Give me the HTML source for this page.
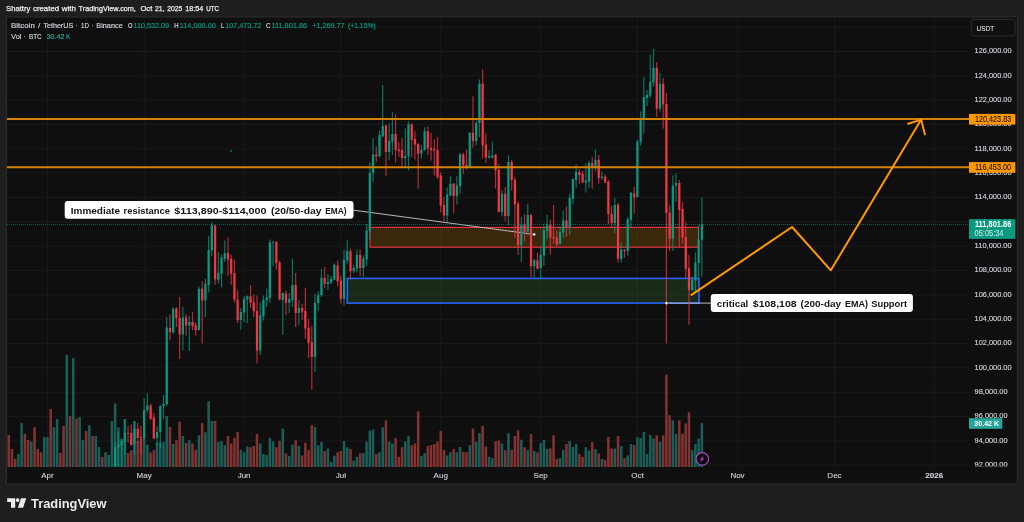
<!DOCTYPE html>
<html lang="en"><head><meta charset="utf-8"><title>BTCUSDT chart</title>
<style>html,body{margin:0;padding:0;background:#1e1e1e;width:1024px;height:522px;overflow:hidden}</style>
</head><body>
<svg width="1024" height="522" viewBox="0 0 1024 522" style="position:absolute;left:0;top:0;display:block">
<defs><clipPath id="pane"><rect x="7" y="17" width="962" height="450"/></clipPath><clipPath id="axis"><rect x="969" y="17" width="48.5" height="449.4"/></clipPath></defs>
<rect width="1024" height="522" fill="#1e1e1e"/>
<rect x="6.4" y="16.9" width="1011" height="467.2" fill="#0f0f0f" stroke="#2b2b2b" stroke-width="1.25"/>
<path d="M7 465.28H968.5 M7 440.94H968.5 M7 416.60H968.5 M7 392.26H968.5 M7 367.92H968.5 M7 343.58H968.5 M7 319.24H968.5 M7 294.90H968.5 M7 270.56H968.5 M7 246.22H968.5 M7 221.88H968.5 M7 197.54H968.5 M7 173.20H968.5 M7 148.86H968.5 M7 124.52H968.5 M7 100.18H968.5 M7 75.84H968.5 M7 51.50H968.5 M7 27.16H968.5 M47.45 17V467 M144.16 17V467 M244.10 17V467 M340.81 17V467 M440.74 17V467 M540.68 17V467 M637.39 17V467 M737.92 17V467 M834.49 17V467 M934.27 17V467" stroke="#1a1a1a" stroke-width="1" fill="none"/>
<g clip-path="url(#pane)">
<rect x="370" y="227.4" width="328.5" height="19.8" fill="rgba(255,152,0,0.18)" stroke="#f23645" stroke-width="1.1"/>
<rect x="347.3" y="278.4" width="351.7" height="24.7" fill="rgba(76,175,80,0.17)" stroke="#2962ff" stroke-width="1.6"/>
<path d="M353.5 210.2L534.1 234.4M666.4 303.1H711" stroke="#d6d6d6" stroke-width="0.85" fill="none"/>
<rect x="4.26" y="426.25" width="2.56" height="40.75" fill="#1b5d57"/>
<rect x="7.49" y="435.00" width="2.56" height="32.00" fill="#813231"/>
<rect x="10.71" y="449.00" width="2.56" height="18.00" fill="#813231"/>
<rect x="13.94" y="458.75" width="2.56" height="8.25" fill="#813231"/>
<rect x="17.16" y="454.10" width="2.56" height="12.90" fill="#1b5d57"/>
<rect x="20.38" y="423.10" width="2.56" height="43.90" fill="#1b5d57"/>
<rect x="23.61" y="433.75" width="2.56" height="33.25" fill="#813231"/>
<rect x="26.83" y="440.00" width="2.56" height="27.00" fill="#813231"/>
<rect x="30.05" y="441.60" width="2.56" height="25.40" fill="#1b5d57"/>
<rect x="33.28" y="427.25" width="2.56" height="39.75" fill="#813231"/>
<rect x="36.50" y="449.00" width="2.56" height="18.00" fill="#813231"/>
<rect x="39.73" y="452.25" width="2.56" height="14.75" fill="#813231"/>
<rect x="42.95" y="436.90" width="2.56" height="30.10" fill="#1b5d57"/>
<rect x="46.17" y="437.25" width="2.56" height="29.75" fill="#1b5d57"/>
<rect x="49.40" y="409.00" width="2.56" height="58.00" fill="#813231"/>
<rect x="52.62" y="427.25" width="2.56" height="39.75" fill="#1b5d57"/>
<rect x="55.84" y="419.10" width="2.56" height="47.90" fill="#1b5d57"/>
<rect x="59.07" y="452.90" width="2.56" height="14.10" fill="#813231"/>
<rect x="62.29" y="426.00" width="2.56" height="41.00" fill="#813231"/>
<rect x="65.52" y="354.75" width="2.56" height="112.25" fill="#1b5d57"/>
<rect x="68.74" y="416.00" width="2.56" height="51.00" fill="#813231"/>
<rect x="71.96" y="358.10" width="2.56" height="108.90" fill="#1b5d57"/>
<rect x="75.19" y="418.50" width="2.56" height="48.50" fill="#813231"/>
<rect x="78.41" y="417.10" width="2.56" height="49.90" fill="#1b5d57"/>
<rect x="81.63" y="440.00" width="2.56" height="27.00" fill="#1b5d57"/>
<rect x="84.86" y="431.00" width="2.56" height="36.00" fill="#813231"/>
<rect x="88.08" y="425.25" width="2.56" height="41.75" fill="#1b5d57"/>
<rect x="91.30" y="436.00" width="2.56" height="31.00" fill="#813231"/>
<rect x="94.53" y="436.00" width="2.56" height="31.00" fill="#1b5d57"/>
<rect x="97.75" y="446.90" width="2.56" height="20.10" fill="#1b5d57"/>
<rect x="100.98" y="456.90" width="2.56" height="10.10" fill="#813231"/>
<rect x="104.20" y="452.25" width="2.56" height="14.75" fill="#1b5d57"/>
<rect x="107.42" y="455.00" width="2.56" height="12.00" fill="#1b5d57"/>
<rect x="110.65" y="421.00" width="2.56" height="46.00" fill="#1b5d57"/>
<rect x="113.87" y="403.50" width="2.56" height="63.50" fill="#1b5d57"/>
<rect x="117.09" y="427.25" width="2.56" height="39.75" fill="#1b5d57"/>
<rect x="120.32" y="438.50" width="2.56" height="28.50" fill="#1b5d57"/>
<rect x="123.54" y="419.00" width="2.56" height="48.00" fill="#1b5d57"/>
<rect x="126.77" y="453.00" width="2.56" height="14.00" fill="#813231"/>
<rect x="129.99" y="450.25" width="2.56" height="16.75" fill="#813231"/>
<rect x="133.21" y="421.00" width="2.56" height="46.00" fill="#1b5d57"/>
<rect x="136.44" y="441.25" width="2.56" height="25.75" fill="#813231"/>
<rect x="139.66" y="439.00" width="2.56" height="28.00" fill="#813231"/>
<rect x="142.88" y="439.00" width="2.56" height="28.00" fill="#1b5d57"/>
<rect x="146.11" y="444.75" width="2.56" height="22.25" fill="#1b5d57"/>
<rect x="149.33" y="452.25" width="2.56" height="14.75" fill="#813231"/>
<rect x="152.55" y="450.25" width="2.56" height="16.75" fill="#813231"/>
<rect x="155.78" y="442.50" width="2.56" height="24.50" fill="#1b5d57"/>
<rect x="159.00" y="442.50" width="2.56" height="24.50" fill="#1b5d57"/>
<rect x="162.23" y="441.90" width="2.56" height="25.10" fill="#1b5d57"/>
<rect x="165.45" y="416.00" width="2.56" height="51.00" fill="#1b5d57"/>
<rect x="168.67" y="426.90" width="2.56" height="40.10" fill="#813231"/>
<rect x="171.90" y="444.00" width="2.56" height="23.00" fill="#1b5d57"/>
<rect x="175.12" y="440.25" width="2.56" height="26.75" fill="#813231"/>
<rect x="178.34" y="421.60" width="2.56" height="45.40" fill="#813231"/>
<rect x="181.57" y="436.00" width="2.56" height="31.00" fill="#1b5d57"/>
<rect x="184.79" y="442.90" width="2.56" height="24.10" fill="#813231"/>
<rect x="188.02" y="440.25" width="2.56" height="26.75" fill="#1b5d57"/>
<rect x="191.24" y="443.50" width="2.56" height="23.50" fill="#813231"/>
<rect x="194.46" y="449.75" width="2.56" height="17.25" fill="#813231"/>
<rect x="197.69" y="435.25" width="2.56" height="31.75" fill="#1b5d57"/>
<rect x="200.91" y="423.10" width="2.56" height="43.90" fill="#813231"/>
<rect x="204.13" y="432.25" width="2.56" height="34.75" fill="#1b5d57"/>
<rect x="207.36" y="401.25" width="2.56" height="65.75" fill="#1b5d57"/>
<rect x="210.58" y="421.00" width="2.56" height="46.00" fill="#1b5d57"/>
<rect x="213.81" y="421.00" width="2.56" height="46.00" fill="#813231"/>
<rect x="217.03" y="442.10" width="2.56" height="24.90" fill="#1b5d57"/>
<rect x="220.25" y="441.00" width="2.56" height="26.00" fill="#1b5d57"/>
<rect x="223.48" y="445.25" width="2.56" height="21.75" fill="#1b5d57"/>
<rect x="226.70" y="436.00" width="2.56" height="31.00" fill="#813231"/>
<rect x="229.92" y="443.50" width="2.56" height="23.50" fill="#813231"/>
<rect x="233.15" y="437.75" width="2.56" height="29.25" fill="#813231"/>
<rect x="236.37" y="431.90" width="2.56" height="35.10" fill="#813231"/>
<rect x="239.59" y="449.75" width="2.56" height="17.25" fill="#1b5d57"/>
<rect x="242.82" y="452.25" width="2.56" height="14.75" fill="#1b5d57"/>
<rect x="246.04" y="446.50" width="2.56" height="20.50" fill="#1b5d57"/>
<rect x="249.27" y="447.25" width="2.56" height="19.75" fill="#813231"/>
<rect x="252.49" y="446.00" width="2.56" height="21.00" fill="#813231"/>
<rect x="255.71" y="434.00" width="2.56" height="33.00" fill="#813231"/>
<rect x="258.94" y="443.50" width="2.56" height="23.50" fill="#1b5d57"/>
<rect x="262.16" y="454.00" width="2.56" height="13.00" fill="#1b5d57"/>
<rect x="265.38" y="455.00" width="2.56" height="12.00" fill="#1b5d57"/>
<rect x="268.61" y="437.75" width="2.56" height="29.25" fill="#1b5d57"/>
<rect x="271.83" y="441.50" width="2.56" height="25.50" fill="#1b5d57"/>
<rect x="275.06" y="447.25" width="2.56" height="19.75" fill="#813231"/>
<rect x="278.28" y="441.00" width="2.56" height="26.00" fill="#813231"/>
<rect x="281.50" y="428.50" width="2.56" height="38.50" fill="#1b5d57"/>
<rect x="284.73" y="453.50" width="2.56" height="13.50" fill="#813231"/>
<rect x="287.95" y="456.00" width="2.56" height="11.00" fill="#1b5d57"/>
<rect x="291.17" y="444.75" width="2.56" height="22.25" fill="#1b5d57"/>
<rect x="294.40" y="440.25" width="2.56" height="26.75" fill="#813231"/>
<rect x="297.62" y="446.00" width="2.56" height="21.00" fill="#1b5d57"/>
<rect x="300.85" y="455.40" width="2.56" height="11.60" fill="#813231"/>
<rect x="304.07" y="442.75" width="2.56" height="24.25" fill="#813231"/>
<rect x="307.29" y="450.25" width="2.56" height="16.75" fill="#813231"/>
<rect x="310.52" y="425.25" width="2.56" height="41.75" fill="#813231"/>
<rect x="313.74" y="426.90" width="2.56" height="40.10" fill="#1b5d57"/>
<rect x="316.96" y="445.25" width="2.56" height="21.75" fill="#1b5d57"/>
<rect x="320.19" y="441.90" width="2.56" height="25.10" fill="#1b5d57"/>
<rect x="323.41" y="451.00" width="2.56" height="16.00" fill="#813231"/>
<rect x="326.63" y="448.50" width="2.56" height="18.50" fill="#1b5d57"/>
<rect x="329.86" y="461.90" width="2.56" height="5.10" fill="#1b5d57"/>
<rect x="333.08" y="455.60" width="2.56" height="11.40" fill="#1b5d57"/>
<rect x="336.31" y="452.25" width="2.56" height="14.75" fill="#813231"/>
<rect x="339.53" y="451.00" width="2.56" height="16.00" fill="#813231"/>
<rect x="342.75" y="441.00" width="2.56" height="26.00" fill="#1b5d57"/>
<rect x="345.98" y="447.25" width="2.56" height="19.75" fill="#1b5d57"/>
<rect x="349.20" y="449.00" width="2.56" height="18.00" fill="#813231"/>
<rect x="352.42" y="460.60" width="2.56" height="6.40" fill="#1b5d57"/>
<rect x="355.65" y="456.90" width="2.56" height="10.10" fill="#1b5d57"/>
<rect x="358.87" y="453.10" width="2.56" height="13.90" fill="#813231"/>
<rect x="362.10" y="453.10" width="2.56" height="13.90" fill="#1b5d57"/>
<rect x="365.32" y="441.50" width="2.56" height="25.50" fill="#1b5d57"/>
<rect x="368.54" y="430.60" width="2.56" height="36.40" fill="#1b5d57"/>
<rect x="371.77" y="429.40" width="2.56" height="37.60" fill="#1b5d57"/>
<rect x="374.99" y="454.00" width="2.56" height="13.00" fill="#813231"/>
<rect x="378.21" y="452.25" width="2.56" height="14.75" fill="#1b5d57"/>
<rect x="381.44" y="427.25" width="2.56" height="39.75" fill="#1b5d57"/>
<rect x="384.66" y="420.25" width="2.56" height="46.75" fill="#813231"/>
<rect x="387.89" y="441.50" width="2.56" height="25.50" fill="#1b5d57"/>
<rect x="391.11" y="443.50" width="2.56" height="23.50" fill="#1b5d57"/>
<rect x="394.33" y="438.10" width="2.56" height="28.90" fill="#813231"/>
<rect x="397.56" y="456.90" width="2.56" height="10.10" fill="#813231"/>
<rect x="400.78" y="447.25" width="2.56" height="19.75" fill="#813231"/>
<rect x="404.00" y="441.50" width="2.56" height="25.50" fill="#1b5d57"/>
<rect x="407.23" y="436.00" width="2.56" height="31.00" fill="#1b5d57"/>
<rect x="410.45" y="445.25" width="2.56" height="21.75" fill="#813231"/>
<rect x="413.67" y="443.50" width="2.56" height="23.50" fill="#813231"/>
<rect x="416.90" y="411.50" width="2.56" height="55.50" fill="#813231"/>
<rect x="420.12" y="456.00" width="2.56" height="11.00" fill="#1b5d57"/>
<rect x="423.35" y="453.10" width="2.56" height="13.90" fill="#1b5d57"/>
<rect x="426.57" y="446.00" width="2.56" height="21.00" fill="#813231"/>
<rect x="429.79" y="445.00" width="2.56" height="22.00" fill="#813231"/>
<rect x="433.02" y="444.00" width="2.56" height="23.00" fill="#813231"/>
<rect x="436.24" y="441.50" width="2.56" height="25.50" fill="#813231"/>
<rect x="439.46" y="431.00" width="2.56" height="36.00" fill="#813231"/>
<rect x="442.69" y="450.00" width="2.56" height="17.00" fill="#813231"/>
<rect x="445.91" y="455.40" width="2.56" height="11.60" fill="#1b5d57"/>
<rect x="449.14" y="452.25" width="2.56" height="14.75" fill="#1b5d57"/>
<rect x="452.36" y="449.00" width="2.56" height="18.00" fill="#813231"/>
<rect x="455.58" y="452.25" width="2.56" height="14.75" fill="#1b5d57"/>
<rect x="458.81" y="446.90" width="2.56" height="20.10" fill="#1b5d57"/>
<rect x="462.03" y="451.90" width="2.56" height="15.10" fill="#813231"/>
<rect x="465.25" y="452.25" width="2.56" height="14.75" fill="#813231"/>
<rect x="468.48" y="445.25" width="2.56" height="21.75" fill="#1b5d57"/>
<rect x="471.70" y="428.50" width="2.56" height="38.50" fill="#813231"/>
<rect x="474.93" y="441.90" width="2.56" height="25.10" fill="#1b5d57"/>
<rect x="478.15" y="433.10" width="2.56" height="33.90" fill="#1b5d57"/>
<rect x="481.37" y="426.00" width="2.56" height="41.00" fill="#813231"/>
<rect x="484.60" y="446.50" width="2.56" height="20.50" fill="#813231"/>
<rect x="487.82" y="456.90" width="2.56" height="10.10" fill="#1b5d57"/>
<rect x="491.04" y="458.10" width="2.56" height="8.90" fill="#1b5d57"/>
<rect x="494.27" y="441.25" width="2.56" height="25.75" fill="#813231"/>
<rect x="497.49" y="440.40" width="2.56" height="26.60" fill="#813231"/>
<rect x="500.71" y="443.50" width="2.56" height="23.50" fill="#1b5d57"/>
<rect x="503.94" y="450.25" width="2.56" height="16.75" fill="#813231"/>
<rect x="507.16" y="433.10" width="2.56" height="33.90" fill="#1b5d57"/>
<rect x="510.39" y="449.75" width="2.56" height="17.25" fill="#813231"/>
<rect x="513.61" y="436.00" width="2.56" height="31.00" fill="#813231"/>
<rect x="516.83" y="430.40" width="2.56" height="36.60" fill="#813231"/>
<rect x="520.06" y="439.75" width="2.56" height="27.25" fill="#1b5d57"/>
<rect x="523.28" y="447.25" width="2.56" height="19.75" fill="#813231"/>
<rect x="526.50" y="450.25" width="2.56" height="16.75" fill="#1b5d57"/>
<rect x="529.73" y="434.00" width="2.56" height="33.00" fill="#813231"/>
<rect x="532.95" y="451.00" width="2.56" height="16.00" fill="#1b5d57"/>
<rect x="536.18" y="452.25" width="2.56" height="14.75" fill="#813231"/>
<rect x="539.40" y="443.10" width="2.56" height="23.90" fill="#1b5d57"/>
<rect x="542.62" y="440.00" width="2.56" height="27.00" fill="#1b5d57"/>
<rect x="545.85" y="449.00" width="2.56" height="18.00" fill="#1b5d57"/>
<rect x="549.07" y="448.50" width="2.56" height="18.50" fill="#813231"/>
<rect x="552.29" y="435.25" width="2.56" height="31.75" fill="#813231"/>
<rect x="555.52" y="459.00" width="2.56" height="8.00" fill="#813231"/>
<rect x="558.74" y="458.10" width="2.56" height="8.90" fill="#1b5d57"/>
<rect x="561.96" y="450.00" width="2.56" height="17.00" fill="#1b5d57"/>
<rect x="565.19" y="444.00" width="2.56" height="23.00" fill="#813231"/>
<rect x="568.41" y="441.00" width="2.56" height="26.00" fill="#1b5d57"/>
<rect x="571.64" y="446.90" width="2.56" height="20.10" fill="#1b5d57"/>
<rect x="574.86" y="444.00" width="2.56" height="23.00" fill="#1b5d57"/>
<rect x="578.08" y="454.10" width="2.56" height="12.90" fill="#813231"/>
<rect x="581.31" y="456.90" width="2.56" height="10.10" fill="#813231"/>
<rect x="584.53" y="447.25" width="2.56" height="19.75" fill="#1b5d57"/>
<rect x="587.75" y="450.60" width="2.56" height="16.40" fill="#1b5d57"/>
<rect x="590.98" y="442.10" width="2.56" height="24.90" fill="#813231"/>
<rect x="594.20" y="449.00" width="2.56" height="18.00" fill="#1b5d57"/>
<rect x="597.43" y="453.50" width="2.56" height="13.50" fill="#813231"/>
<rect x="600.65" y="459.00" width="2.56" height="8.00" fill="#1b5d57"/>
<rect x="603.87" y="460.00" width="2.56" height="7.00" fill="#813231"/>
<rect x="607.10" y="436.90" width="2.56" height="30.10" fill="#813231"/>
<rect x="610.32" y="448.50" width="2.56" height="18.50" fill="#813231"/>
<rect x="613.54" y="448.50" width="2.56" height="18.50" fill="#1b5d57"/>
<rect x="616.77" y="436.00" width="2.56" height="31.00" fill="#813231"/>
<rect x="619.99" y="446.00" width="2.56" height="21.00" fill="#1b5d57"/>
<rect x="623.22" y="458.10" width="2.56" height="8.90" fill="#813231"/>
<rect x="626.44" y="455.40" width="2.56" height="11.60" fill="#1b5d57"/>
<rect x="629.66" y="444.00" width="2.56" height="23.00" fill="#1b5d57"/>
<rect x="632.89" y="445.00" width="2.56" height="22.00" fill="#813231"/>
<rect x="636.11" y="437.25" width="2.56" height="29.75" fill="#1b5d57"/>
<rect x="639.33" y="438.10" width="2.56" height="28.90" fill="#1b5d57"/>
<rect x="642.56" y="431.90" width="2.56" height="35.10" fill="#1b5d57"/>
<rect x="645.78" y="454.00" width="2.56" height="13.00" fill="#1b5d57"/>
<rect x="649.00" y="435.00" width="2.56" height="32.00" fill="#1b5d57"/>
<rect x="652.23" y="438.50" width="2.56" height="28.50" fill="#1b5d57"/>
<rect x="655.45" y="435.40" width="2.56" height="31.60" fill="#813231"/>
<rect x="658.68" y="441.60" width="2.56" height="25.40" fill="#1b5d57"/>
<rect x="661.90" y="435.25" width="2.56" height="31.75" fill="#813231"/>
<rect x="665.12" y="374.70" width="2.56" height="92.30" fill="#813231"/>
<rect x="668.35" y="415.25" width="2.56" height="51.75" fill="#813231"/>
<rect x="671.57" y="420.25" width="2.56" height="46.75" fill="#1b5d57"/>
<rect x="674.79" y="434.00" width="2.56" height="33.00" fill="#1b5d57"/>
<rect x="678.02" y="420.25" width="2.56" height="46.75" fill="#813231"/>
<rect x="681.24" y="433.75" width="2.56" height="33.25" fill="#813231"/>
<rect x="684.47" y="423.50" width="2.56" height="43.50" fill="#813231"/>
<rect x="687.69" y="412.25" width="2.56" height="54.75" fill="#813231"/>
<rect x="690.91" y="450.25" width="2.56" height="16.75" fill="#1b5d57"/>
<rect x="694.14" y="444.00" width="2.56" height="23.00" fill="#1b5d57"/>
<rect x="697.36" y="438.50" width="2.56" height="28.50" fill="#1b5d57"/>
<rect x="700.58" y="423.10" width="2.56" height="43.90" fill="#1b5d57"/>
<path d="M115.15 441.90V480.00 M118.37 431.90V466.00 M121.60 439.40V468.00 M124.82 419.40V455.00 M134.49 421.25V455.00 M144.16 398.10V439.40 M147.39 393.10V412.50 M157.06 426.00V446.00 M160.28 405.00V448.00 M163.51 395.00V418.75 M166.73 316.90V406.00 M173.18 306.90V333.75 M182.85 306.90V350.25 M189.30 316.25V351.00 M198.97 286.25V330.60 M205.41 278.75V316.90 M208.64 236.25V292.50 M211.86 221.90V256.25 M218.31 251.90V283.75 M221.53 254.40V287.50 M224.76 240.60V261.90 M240.87 308.10V329.75 M244.10 296.25V321.90 M247.32 295.60V323.10 M260.22 302.50V355.00 M263.44 295.60V320.60 M266.66 288.75V306.90 M269.89 239.40V303.10 M273.11 241.25V266.25 M282.78 292.50V335.00 M289.23 293.10V313.10 M292.45 258.75V306.90 M298.90 300.00V325.00 M315.02 293.75V371.90 M318.24 291.25V311.25 M321.47 269.00V296.90 M327.91 274.00V290.00 M331.14 276.00V284.00 M334.36 263.50V280.20 M344.03 249.40V305.60 M347.26 239.80V263.75 M353.70 265.00V273.10 M356.93 249.40V272.50 M363.38 255.60V276.90 M366.60 224.00V266.25 M369.82 162.50V240.00 M373.05 138.10V181.90 M379.49 130.60V157.50 M382.72 85.00V137.50 M389.17 123.50V160.00 M392.39 112.25V155.00 M405.28 128.50V166.25 M408.51 121.25V170.60 M421.40 145.00V158.75 M424.63 127.25V150.60 M447.19 187.50V221.90 M450.42 176.25V196.20 M456.86 176.25V204.40 M460.09 153.10V193.75 M469.76 132.25V167.50 M476.20 120.60V145.60 M479.43 79.40V136.90 M489.10 150.00V158.75 M492.32 141.50V158.50 M501.99 190.00V216.40 M508.44 155.25V225.30 M521.34 216.90V261.90 M527.78 203.75V235.60 M534.23 258.75V277.50 M540.68 247.50V278.75 M543.90 224.50V265.60 M547.13 215.00V239.40 M560.02 226.25V244.75 M563.24 210.60V238.10 M569.69 193.75V235.00 M572.92 178.50V204.00 M576.14 164.50V188.10 M585.81 163.30V192.40 M589.03 160.80V187.80 M595.48 149.75V171.60 M601.93 171.50V180.00 M614.82 198.10V233.10 M621.27 242.50V262.50 M627.72 217.25V255.60 M630.94 191.90V226.90 M637.39 140.00V197.60 M640.61 111.25V145.60 M643.84 76.90V133.50 M647.06 90.00V106.00 M650.28 54.40V98.10 M653.51 48.75V86.50 M659.96 73.10V111.50 M672.85 175.25V251.00 M676.07 173.30V201.90 M692.19 276.40V290.80 M695.42 252.50V293.10 M698.64 225.00V277.60 M701.86 197.30V276.60" stroke="#089981" stroke-width="1.2" stroke-opacity="0.72" fill="none"/>
<path d="M114.02 447.00h2.26V480.00h-2.26Z M117.24 444.40h2.26V447.50h-2.26Z M120.47 441.20h2.26V445.00h-2.26Z M123.69 433.00h2.26V442.00h-2.26Z M133.36 428.75h2.26V443.75h-2.26Z M143.03 410.00h2.26V438.75h-2.26Z M146.26 405.60h2.26V410.00h-2.26Z M155.93 431.90h2.26V438.00h-2.26Z M159.15 406.20h2.26V432.00h-2.26Z M162.38 404.00h2.26V406.20h-2.26Z M165.60 327.50h2.26V404.00h-2.26Z M172.05 308.75h2.26V332.50h-2.26Z M181.72 317.50h2.26V334.40h-2.26Z M188.17 321.90h2.26V325.60h-2.26Z M197.84 288.75h2.26V330.00h-2.26Z M204.28 283.75h2.26V300.60h-2.26Z M207.51 250.00h2.26V285.00h-2.26Z M210.73 225.00h2.26V250.60h-2.26Z M217.18 273.10h2.26V279.40h-2.26Z M220.40 257.50h2.26V273.75h-2.26Z M223.63 253.10h2.26V258.75h-2.26Z M239.74 311.90h2.26V320.00h-2.26Z M242.97 298.75h2.26V312.50h-2.26Z M246.19 296.20h2.26V299.40h-2.26Z M259.09 315.60h2.26V350.60h-2.26Z M262.31 300.00h2.26V316.25h-2.26Z M265.53 297.50h2.26V300.60h-2.26Z M268.76 242.50h2.26V297.90h-2.26Z M271.98 242.20h2.26V242.90h-2.26Z M281.65 293.10h2.26V300.00h-2.26Z M288.10 298.90h2.26V302.75h-2.26Z M291.32 285.00h2.26V300.20h-2.26Z M297.77 308.10h2.26V313.10h-2.26Z M313.89 302.75h2.26V356.90h-2.26Z M317.11 295.00h2.26V303.00h-2.26Z M320.34 278.10h2.26V295.00h-2.26Z M326.78 281.90h2.26V284.00h-2.26Z M330.01 279.00h2.26V282.50h-2.26Z M333.23 264.75h2.26V279.75h-2.26Z M342.90 259.75h2.26V298.75h-2.26Z M346.13 251.00h2.26V260.60h-2.26Z M352.57 268.10h2.26V271.25h-2.26Z M355.80 255.00h2.26V268.75h-2.26Z M362.25 258.50h2.26V268.10h-2.26Z M365.47 230.60h2.26V259.40h-2.26Z M368.69 173.10h2.26V231.25h-2.26Z M371.92 154.40h2.26V173.10h-2.26Z M378.36 135.00h2.26V156.25h-2.26Z M381.59 126.00h2.26V136.25h-2.26Z M388.04 141.00h2.26V151.90h-2.26Z M391.26 134.00h2.26V141.50h-2.26Z M404.15 156.00h2.26V158.10h-2.26Z M407.38 124.40h2.26V156.25h-2.26Z M420.27 149.75h2.26V153.75h-2.26Z M423.50 131.25h2.26V150.00h-2.26Z M446.06 194.60h2.26V215.60h-2.26Z M449.29 183.75h2.26V195.60h-2.26Z M455.73 185.60h2.26V196.00h-2.26Z M458.96 154.50h2.26V186.00h-2.26Z M468.63 132.75h2.26V166.90h-2.26Z M475.07 122.90h2.26V141.10h-2.26Z M478.30 83.75h2.26V123.10h-2.26Z M487.97 156.00h2.26V157.50h-2.26Z M491.19 155.60h2.26V157.50h-2.26Z M500.86 193.75h2.26V211.90h-2.26Z M507.31 161.90h2.26V216.10h-2.26Z M520.21 224.40h2.26V245.00h-2.26Z M526.65 215.00h2.26V232.10h-2.26Z M533.10 260.00h2.26V266.25h-2.26Z M539.55 255.00h2.26V268.10h-2.26Z M542.77 230.60h2.26V255.60h-2.26Z M546.00 224.75h2.26V231.00h-2.26Z M558.89 231.90h2.26V244.00h-2.26Z M562.11 220.60h2.26V232.40h-2.26Z M568.56 197.75h2.26V227.40h-2.26Z M571.79 179.00h2.26V198.75h-2.26Z M575.01 171.90h2.26V180.00h-2.26Z M584.68 180.60h2.26V182.40h-2.26Z M587.90 163.10h2.26V181.40h-2.26Z M594.35 159.75h2.26V167.80h-2.26Z M600.80 176.40h2.26V178.10h-2.26Z M613.69 205.00h2.26V223.10h-2.26Z M620.14 249.75h2.26V259.00h-2.26Z M626.59 219.30h2.26V251.25h-2.26Z M629.81 192.75h2.26V220.00h-2.26Z M636.26 141.40h2.26V196.90h-2.26Z M639.48 118.10h2.26V141.90h-2.26Z M642.71 96.90h2.26V119.00h-2.26Z M645.93 95.00h2.26V98.10h-2.26Z M649.15 81.90h2.26V95.60h-2.26Z M652.38 67.75h2.26V82.50h-2.26Z M658.83 83.75h2.26V108.75h-2.26Z M671.72 185.40h2.26V238.80h-2.26Z M674.94 183.10h2.26V185.60h-2.26Z M691.06 280.00h2.26V290.00h-2.26Z M694.29 262.40h2.26V280.40h-2.26Z M697.51 239.60h2.26V263.00h-2.26Z M700.73 224.20h2.26V239.70h-2.26Z" fill="#089981"/>
<path d="M128.05 426.00V442.50 M131.27 424.40V445.60 M137.72 423.10V442.50 M140.94 426.00V454.40 M150.61 403.75V420.00 M153.83 413.10V439.00 M169.95 314.40V339.80 M176.40 306.90V326.90 M179.62 296.90V359.00 M186.07 314.40V335.60 M192.52 311.90V330.00 M195.74 322.50V335.60 M202.19 281.25V343.50 M215.09 224.80V285.00 M227.98 237.50V276.00 M231.20 254.40V284.75 M234.43 259.40V302.50 M237.65 290.60V323.10 M250.55 285.00V308.10 M253.77 294.40V316.90 M256.99 295.60V363.60 M276.34 241.00V269.40 M279.56 260.60V300.20 M286.01 290.60V315.00 M295.68 273.10V326.90 M302.13 303.75V320.00 M305.35 288.10V338.75 M308.57 318.75V358.10 M311.80 326.25V389.75 M324.69 266.90V288.10 M337.59 260.60V286.00 M340.81 276.25V303.75 M350.48 248.75V279.40 M360.15 249.40V276.25 M376.27 146.25V161.90 M385.94 124.75V176.25 M395.61 114.00V162.50 M398.84 142.25V156.90 M402.06 138.10V166.90 M411.73 123.10V156.90 M414.95 131.25V159.40 M418.18 143.10V188.75 M427.85 126.50V155.00 M431.07 133.10V160.60 M434.30 139.40V175.60 M437.52 137.25V179.00 M440.74 172.25V212.50 M443.97 196.90V221.25 M453.64 183.00V213.30 M463.31 152.75V173.75 M466.53 149.40V169.40 M472.98 96.25V147.80 M482.65 69.40V158.50 M485.88 133.50V163.10 M495.55 154.00V188.75 M498.77 164.00V212.30 M505.22 187.25V221.25 M511.67 160.00V190.60 M514.89 176.90V237.50 M518.11 201.25V255.00 M524.56 214.40V241.40 M531.01 213.75V276.90 M537.46 252.50V269.40 M550.35 219.40V254.40 M553.57 205.00V243.75 M556.80 230.00V246.00 M566.47 206.25V236.90 M579.36 169.20V183.75 M582.59 170.80V183.30 M592.26 157.00V188.75 M598.71 155.00V183.75 M605.15 174.50V183.00 M608.38 180.10V224.20 M611.60 206.25V226.90 M618.05 203.10V262.50 M624.50 249.20V257.50 M634.17 186.90V213.75 M656.73 62.25V116.90 M663.18 78.10V128.50 M666.40 93.10V343.50 M669.63 205.60V251.20 M679.30 180.00V246.90 M682.52 201.90V243.80 M685.75 222.30V277.30 M688.97 255.10V324.75" stroke="#f23645" stroke-width="1.2" stroke-opacity="0.72" fill="none"/>
<path d="M126.92 433.20h2.26V433.90h-2.26Z M130.14 433.00h2.26V445.00h-2.26Z M136.59 428.75h2.26V438.00h-2.26Z M139.81 437.20h2.26V438.60h-2.26Z M149.48 405.60h2.26V418.75h-2.26Z M152.70 417.50h2.26V438.50h-2.26Z M168.82 328.10h2.26V331.90h-2.26Z M175.27 308.50h2.26V318.10h-2.26Z M178.49 318.10h2.26V334.40h-2.26Z M184.94 317.50h2.26V325.60h-2.26Z M191.39 321.90h2.26V326.25h-2.26Z M194.61 325.60h2.26V330.00h-2.26Z M201.06 288.75h2.26V300.60h-2.26Z M213.96 225.60h2.26V279.40h-2.26Z M226.85 253.10h2.26V259.40h-2.26Z M230.07 258.75h2.26V273.75h-2.26Z M233.30 273.10h2.26V299.70h-2.26Z M236.52 299.40h2.26V320.00h-2.26Z M249.42 296.20h2.26V302.75h-2.26Z M252.64 302.25h2.26V311.25h-2.26Z M255.86 311.00h2.26V350.60h-2.26Z M275.21 241.90h2.26V263.10h-2.26Z M278.43 262.50h2.26V299.60h-2.26Z M284.88 293.40h2.26V302.75h-2.26Z M294.55 285.00h2.26V313.10h-2.26Z M301.00 308.10h2.26V311.50h-2.26Z M304.22 311.00h2.26V328.50h-2.26Z M307.44 327.75h2.26V343.10h-2.26Z M310.67 342.25h2.26V356.90h-2.26Z M323.56 278.10h2.26V283.75h-2.26Z M336.46 265.60h2.26V281.25h-2.26Z M339.68 280.60h2.26V298.75h-2.26Z M349.35 251.00h2.26V271.25h-2.26Z M359.02 255.00h2.26V268.10h-2.26Z M375.14 154.40h2.26V156.25h-2.26Z M384.81 125.60h2.26V151.90h-2.26Z M394.48 134.00h2.26V150.00h-2.26Z M397.71 149.40h2.26V151.00h-2.26Z M400.93 150.00h2.26V158.10h-2.26Z M410.60 124.40h2.26V139.75h-2.26Z M413.82 139.00h2.26V144.40h-2.26Z M417.05 144.00h2.26V153.75h-2.26Z M426.72 131.25h2.26V148.50h-2.26Z M429.94 147.75h2.26V150.00h-2.26Z M433.17 149.00h2.26V150.60h-2.26Z M436.39 150.00h2.26V176.90h-2.26Z M439.61 175.60h2.26V205.60h-2.26Z M442.84 205.00h2.26V215.60h-2.26Z M452.51 183.75h2.26V196.00h-2.26Z M462.18 154.40h2.26V165.60h-2.26Z M465.40 165.00h2.26V167.50h-2.26Z M471.85 132.75h2.26V141.10h-2.26Z M481.52 83.75h2.26V145.60h-2.26Z M484.75 144.75h2.26V157.50h-2.26Z M494.42 154.75h2.26V170.60h-2.26Z M497.64 170.00h2.26V211.90h-2.26Z M504.09 193.75h2.26V216.10h-2.26Z M510.54 161.90h2.26V180.00h-2.26Z M513.76 179.75h2.26V204.40h-2.26Z M516.98 203.60h2.26V245.00h-2.26Z M523.43 224.40h2.26V231.90h-2.26Z M529.88 214.90h2.26V266.25h-2.26Z M536.33 260.60h2.26V268.75h-2.26Z M549.22 224.75h2.26V237.50h-2.26Z M552.44 236.90h2.26V238.50h-2.26Z M555.67 237.50h2.26V244.40h-2.26Z M565.34 220.60h2.26V227.60h-2.26Z M578.23 171.90h2.26V175.00h-2.26Z M581.46 173.75h2.26V182.50h-2.26Z M591.13 163.10h2.26V167.20h-2.26Z M597.58 159.75h2.26V178.10h-2.26Z M604.02 176.40h2.26V182.50h-2.26Z M607.25 181.70h2.26V213.90h-2.26Z M610.47 213.75h2.26V223.10h-2.26Z M616.92 204.75h2.26V258.70h-2.26Z M623.37 249.75h2.26V251.10h-2.26Z M633.04 193.50h2.26V197.30h-2.26Z M655.60 67.75h2.26V108.75h-2.26Z M662.05 83.75h2.26V104.40h-2.26Z M665.27 103.90h2.26V212.90h-2.26Z M668.50 212.40h2.26V238.80h-2.26Z M678.17 183.10h2.26V209.90h-2.26Z M681.39 209.00h2.26V237.50h-2.26Z M684.62 237.00h2.26V268.70h-2.26Z M687.84 268.00h2.26V290.00h-2.26Z" fill="#f23645"/>
</g>
<g clip-path="url(#pane)">
<path d="M7 119H969M7 167.2H969" stroke="#d4830a" stroke-width="1.95" fill="none"/>
<path d="M7 224.5H969" stroke="#089981" stroke-width="0.8" stroke-dasharray="0.8 1.2" fill="none" opacity="0.9"/>
<path d="M691.5 294.9L792.1 227L830.8 270.3L921.2 119.6" stroke="#ff9800" stroke-width="2" fill="none" stroke-linejoin="round" stroke-linecap="round"/>
<path d="M908.1 123.8L921.2 119.6L924.9 134.4" stroke="#ff9800" stroke-width="2" fill="none" stroke-linejoin="round" stroke-linecap="round"/>
<circle cx="534.1" cy="234.4" r="1.7" fill="#fff" stroke="#0f0f0f" stroke-width="0.6"/>
<rect x="64.7" y="200.9" width="288.8" height="17.9" rx="3" fill="#fff"/>
<text x="70.8" y="213.7" font-family="'Liberation Sans',sans-serif" font-weight="700" font-size="9.3" fill="#131313" textLength="49.30" lengthAdjust="spacingAndGlyphs">Immediate</text>
<text x="123.6" y="213.7" font-family="'Liberation Sans',sans-serif" font-weight="700" font-size="9.3" fill="#131313" textLength="46.30" lengthAdjust="spacingAndGlyphs">resistance</text>
<text x="174.3" y="213.7" font-family="'Liberation Sans',sans-serif" font-weight="700" font-size="9.3" fill="#131313" textLength="92.30" lengthAdjust="spacingAndGlyphs">$113,890-$114,000</text>
<text x="271" y="213.7" font-family="'Liberation Sans',sans-serif" font-weight="700" font-size="9.3" fill="#131313" textLength="50.60" lengthAdjust="spacingAndGlyphs">(20/50-day</text>
<text x="325.2" y="213.7" font-family="'Liberation Sans',sans-serif" font-weight="700" font-size="9.3" fill="#131313" textLength="21.40" lengthAdjust="spacingAndGlyphs">EMA)</text>
<circle cx="666.4" cy="303.1" r="1.7" fill="#fff" stroke="#0f0f0f" stroke-width="0.6"/>
<rect x="710.8" y="294" width="202.1" height="18" rx="3" fill="#fff"/>
<text x="716.8" y="306.9" font-family="'Liberation Sans',sans-serif" font-weight="700" font-size="9.3" fill="#131313" textLength="31.50" lengthAdjust="spacingAndGlyphs">critical</text>
<text x="752.8" y="306.9" font-family="'Liberation Sans',sans-serif" font-weight="700" font-size="9.3" fill="#131313" textLength="43.80" lengthAdjust="spacingAndGlyphs">$108,108</text>
<text x="800.6" y="306.9" font-family="'Liberation Sans',sans-serif" font-weight="700" font-size="9.3" fill="#131313" textLength="40.50" lengthAdjust="spacingAndGlyphs">(200-day</text>
<text x="844.9" y="306.9" font-family="'Liberation Sans',sans-serif" font-weight="700" font-size="9.3" fill="#131313" textLength="23.10" lengthAdjust="spacingAndGlyphs">EMA)</text>
<text x="871.2" y="306.9" font-family="'Liberation Sans',sans-serif" font-weight="700" font-size="9.3" fill="#131313" textLength="35.90" lengthAdjust="spacingAndGlyphs">Support</text>
</g>
<circle cx="231.1" cy="150.9" r="0.8" fill="#1793a8"/>
<circle cx="702.3" cy="458.9" r="6.25" fill="#0c0c0c" stroke="#ab45bf" stroke-width="1.2"/>
<path d="M703.7 455.5L699.7 459.4H701.9L700.3 462.6L704.4 458.6H702.3Z" fill="#b843cc"/>
<g clip-path="url(#axis)">
<text x="974.6" y="467.03" font-family="'Liberation Sans',sans-serif" font-size="8.1" fill="#d1d4dc" stroke="#d1d4dc" stroke-width="0.15" textLength="33" lengthAdjust="spacingAndGlyphs">92,000.00</text>
<text x="974.6" y="442.69" font-family="'Liberation Sans',sans-serif" font-size="8.1" fill="#d1d4dc" stroke="#d1d4dc" stroke-width="0.15" textLength="33" lengthAdjust="spacingAndGlyphs">94,000.00</text>
<text x="974.6" y="418.35" font-family="'Liberation Sans',sans-serif" font-size="8.1" fill="#d1d4dc" stroke="#d1d4dc" stroke-width="0.15" textLength="33" lengthAdjust="spacingAndGlyphs">96,000.00</text>
<text x="974.6" y="394.01" font-family="'Liberation Sans',sans-serif" font-size="8.1" fill="#d1d4dc" stroke="#d1d4dc" stroke-width="0.15" textLength="33" lengthAdjust="spacingAndGlyphs">98,000.00</text>
<text x="974.6" y="369.67" font-family="'Liberation Sans',sans-serif" font-size="8.1" fill="#d1d4dc" stroke="#d1d4dc" stroke-width="0.15" textLength="37" lengthAdjust="spacingAndGlyphs">100,000.00</text>
<text x="974.6" y="345.33" font-family="'Liberation Sans',sans-serif" font-size="8.1" fill="#d1d4dc" stroke="#d1d4dc" stroke-width="0.15" textLength="37" lengthAdjust="spacingAndGlyphs">102,000.00</text>
<text x="974.6" y="320.99" font-family="'Liberation Sans',sans-serif" font-size="8.1" fill="#d1d4dc" stroke="#d1d4dc" stroke-width="0.15" textLength="37" lengthAdjust="spacingAndGlyphs">104,000.00</text>
<text x="974.6" y="296.65" font-family="'Liberation Sans',sans-serif" font-size="8.1" fill="#d1d4dc" stroke="#d1d4dc" stroke-width="0.15" textLength="37" lengthAdjust="spacingAndGlyphs">106,000.00</text>
<text x="974.6" y="272.31" font-family="'Liberation Sans',sans-serif" font-size="8.1" fill="#d1d4dc" stroke="#d1d4dc" stroke-width="0.15" textLength="37" lengthAdjust="spacingAndGlyphs">108,000.00</text>
<text x="974.6" y="247.97" font-family="'Liberation Sans',sans-serif" font-size="8.1" fill="#d1d4dc" stroke="#d1d4dc" stroke-width="0.15" textLength="37" lengthAdjust="spacingAndGlyphs">110,000.00</text>
<text x="974.6" y="223.63" font-family="'Liberation Sans',sans-serif" font-size="8.1" fill="#d1d4dc" stroke="#d1d4dc" stroke-width="0.15" textLength="37" lengthAdjust="spacingAndGlyphs">112,000.00</text>
<text x="974.6" y="199.29" font-family="'Liberation Sans',sans-serif" font-size="8.1" fill="#d1d4dc" stroke="#d1d4dc" stroke-width="0.15" textLength="37" lengthAdjust="spacingAndGlyphs">114,000.00</text>
<text x="974.6" y="174.95" font-family="'Liberation Sans',sans-serif" font-size="8.1" fill="#d1d4dc" stroke="#d1d4dc" stroke-width="0.15" textLength="37" lengthAdjust="spacingAndGlyphs">116,000.00</text>
<text x="974.6" y="150.61" font-family="'Liberation Sans',sans-serif" font-size="8.1" fill="#d1d4dc" stroke="#d1d4dc" stroke-width="0.15" textLength="37" lengthAdjust="spacingAndGlyphs">118,000.00</text>
<text x="974.6" y="126.27" font-family="'Liberation Sans',sans-serif" font-size="8.1" fill="#d1d4dc" stroke="#d1d4dc" stroke-width="0.15" textLength="37" lengthAdjust="spacingAndGlyphs">120,000.00</text>
<text x="974.6" y="101.93" font-family="'Liberation Sans',sans-serif" font-size="8.1" fill="#d1d4dc" stroke="#d1d4dc" stroke-width="0.15" textLength="37" lengthAdjust="spacingAndGlyphs">122,000.00</text>
<text x="974.6" y="77.59" font-family="'Liberation Sans',sans-serif" font-size="8.1" fill="#d1d4dc" stroke="#d1d4dc" stroke-width="0.15" textLength="37" lengthAdjust="spacingAndGlyphs">124,000.00</text>
<text x="974.6" y="53.25" font-family="'Liberation Sans',sans-serif" font-size="8.1" fill="#d1d4dc" stroke="#d1d4dc" stroke-width="0.15" textLength="37" lengthAdjust="spacingAndGlyphs">126,000.00</text>
</g>
<rect x="969" y="113.90" width="46.3" height="10.7" fill="#ff9800"/>
<text x="975" y="121.85" font-family="'Liberation Sans',sans-serif" font-size="8.2" fill="#1c1200" stroke="#1c1200" stroke-width="0.12" textLength="36.2" lengthAdjust="spacingAndGlyphs">120,423.83</text>
<rect x="969" y="162.10" width="46.3" height="10.7" fill="#ff9800"/>
<text x="975" y="170.05" font-family="'Liberation Sans',sans-serif" font-size="8.2" fill="#1c1200" stroke="#1c1200" stroke-width="0.12" textLength="36.2" lengthAdjust="spacingAndGlyphs">116,453.00</text>
<rect x="969" y="219.2" width="46.3" height="19.7" fill="#089981"/>
<text x="974.9" y="226.9" font-family="'Liberation Sans',sans-serif" font-size="8.2" font-weight="700" fill="#fff" textLength="36.4" lengthAdjust="spacingAndGlyphs">111,801.86</text>
<text x="974.6" y="235.8" font-family="'Liberation Sans',sans-serif" font-size="8.2" fill="#d6efe9" textLength="28.9" lengthAdjust="spacingAndGlyphs">05:05:34</text>
<rect x="969" y="418.2" width="33.3" height="10.6" fill="#26a69a"/>
<text x="974.3" y="425.9" font-family="'Liberation Sans',sans-serif" font-size="8.1" font-weight="700" fill="#fff" textLength="24.8" lengthAdjust="spacingAndGlyphs">30.42 K</text>
<rect x="971.3" y="19.6" width="43.8" height="16.3" rx="2.2" fill="#0f0f0f" stroke="#333" stroke-width="0.8"/>
<text x="976.6" y="30.6" font-family="'Liberation Sans',sans-serif" font-size="8" fill="#d1d4dc" stroke="#d1d4dc" stroke-width="0.15" textLength="17.5" lengthAdjust="spacingAndGlyphs">USDT</text>
<text x="47.45" y="478.1" font-family="'Liberation Sans',sans-serif" font-size="8" font-weight="400" fill="#d1d4dc" stroke="#d1d4dc" stroke-width="0.12" text-anchor="middle">Apr</text>
<text x="144.16" y="478.1" font-family="'Liberation Sans',sans-serif" font-size="8" font-weight="400" fill="#d1d4dc" stroke="#d1d4dc" stroke-width="0.12" text-anchor="middle">May</text>
<text x="244.10" y="478.1" font-family="'Liberation Sans',sans-serif" font-size="8" font-weight="400" fill="#d1d4dc" stroke="#d1d4dc" stroke-width="0.12" text-anchor="middle">Jun</text>
<text x="340.81" y="478.1" font-family="'Liberation Sans',sans-serif" font-size="8" font-weight="400" fill="#d1d4dc" stroke="#d1d4dc" stroke-width="0.12" text-anchor="middle">Jul</text>
<text x="440.74" y="478.1" font-family="'Liberation Sans',sans-serif" font-size="8" font-weight="400" fill="#d1d4dc" stroke="#d1d4dc" stroke-width="0.12" text-anchor="middle">Aug</text>
<text x="540.68" y="478.1" font-family="'Liberation Sans',sans-serif" font-size="8" font-weight="400" fill="#d1d4dc" stroke="#d1d4dc" stroke-width="0.12" text-anchor="middle">Sep</text>
<text x="637.39" y="478.1" font-family="'Liberation Sans',sans-serif" font-size="8" font-weight="400" fill="#d1d4dc" stroke="#d1d4dc" stroke-width="0.12" text-anchor="middle">Oct</text>
<text x="737.52" y="478.1" font-family="'Liberation Sans',sans-serif" font-size="8" font-weight="400" fill="#d1d4dc" stroke="#d1d4dc" stroke-width="0.12" text-anchor="middle">Nov</text>
<text x="834.49" y="478.1" font-family="'Liberation Sans',sans-serif" font-size="8" font-weight="400" fill="#d1d4dc" stroke="#d1d4dc" stroke-width="0.12" text-anchor="middle">Dec</text>
<text x="934.27" y="478.1" font-family="'Liberation Sans',sans-serif" font-size="8" font-weight="700" fill="#d1d4dc" stroke="#d1d4dc" stroke-width="0.12" text-anchor="middle">2026</text>
<text x="6.1" y="11.35" font-family="'Liberation Sans',sans-serif" font-size="7.7" font-weight="400" fill="#ececec" stroke="#ececec" stroke-width="0.25" textLength="24.20" lengthAdjust="spacingAndGlyphs">Shattry</text>
<text x="33" y="11.35" font-family="'Liberation Sans',sans-serif" font-size="7.7" font-weight="400" fill="#ececec" stroke="#ececec" stroke-width="0.25" textLength="26.10" lengthAdjust="spacingAndGlyphs">created</text>
<text x="61.8" y="11.35" font-family="'Liberation Sans',sans-serif" font-size="7.7" font-weight="400" fill="#ececec" stroke="#ececec" stroke-width="0.25" textLength="14.10" lengthAdjust="spacingAndGlyphs">with</text>
<text x="78.6" y="11.35" font-family="'Liberation Sans',sans-serif" font-size="7.7" font-weight="400" fill="#ececec" stroke="#ececec" stroke-width="0.25" textLength="57.30" lengthAdjust="spacingAndGlyphs">TradingView.com,</text>
<text x="140.4" y="11.35" font-family="'Liberation Sans',sans-serif" font-size="7.7" font-weight="400" fill="#ececec" stroke="#ececec" stroke-width="0.25" textLength="11.90" lengthAdjust="spacingAndGlyphs">Oct</text>
<text x="155" y="11.35" font-family="'Liberation Sans',sans-serif" font-size="7.7" font-weight="400" fill="#ececec" stroke="#ececec" stroke-width="0.25" textLength="9.60" lengthAdjust="spacingAndGlyphs">21,</text>
<text x="167.3" y="11.35" font-family="'Liberation Sans',sans-serif" font-size="7.7" font-weight="400" fill="#ececec" stroke="#ececec" stroke-width="0.25" textLength="15.10" lengthAdjust="spacingAndGlyphs">2025</text>
<text x="185.3" y="11.35" font-family="'Liberation Sans',sans-serif" font-size="7.7" font-weight="400" fill="#ececec" stroke="#ececec" stroke-width="0.25" textLength="18.00" lengthAdjust="spacingAndGlyphs">18:54</text>
<text x="206.2" y="11.35" font-family="'Liberation Sans',sans-serif" font-size="7.7" font-weight="400" fill="#ececec" stroke="#ececec" stroke-width="0.25" textLength="12.80" lengthAdjust="spacingAndGlyphs">UTC</text>
<text x="11.1" y="28.4" font-family="'Liberation Sans',sans-serif" font-size="8.0" font-weight="400" fill="#d1d4dc" stroke="#d1d4dc" stroke-width="0.18" textLength="23.70" lengthAdjust="spacingAndGlyphs">Bitcoin</text>
<text x="38.1" y="28.4" font-family="'Liberation Sans',sans-serif" font-size="8.0" font-weight="400" fill="#d1d4dc" stroke="#d1d4dc" stroke-width="0.18" textLength="2.30" lengthAdjust="spacingAndGlyphs">/</text>
<text x="43.4" y="28.4" font-family="'Liberation Sans',sans-serif" font-size="8.0" font-weight="400" fill="#d1d4dc" stroke="#d1d4dc" stroke-width="0.18" textLength="29.80" lengthAdjust="spacingAndGlyphs">TetherUS</text>
<text x="75.8" y="28.4" font-family="'Liberation Sans',sans-serif" font-size="8.0" font-weight="400" fill="#d1d4dc" stroke="#d1d4dc" stroke-width="0.18" textLength="1.60" lengthAdjust="spacingAndGlyphs">·</text>
<text x="81" y="28.4" font-family="'Liberation Sans',sans-serif" font-size="8.0" font-weight="400" fill="#d1d4dc" stroke="#d1d4dc" stroke-width="0.18" textLength="7.90" lengthAdjust="spacingAndGlyphs">1D</text>
<text x="91.4" y="28.4" font-family="'Liberation Sans',sans-serif" font-size="8.0" font-weight="400" fill="#d1d4dc" stroke="#d1d4dc" stroke-width="0.18" textLength="1.60" lengthAdjust="spacingAndGlyphs">·</text>
<text x="96.3" y="28.4" font-family="'Liberation Sans',sans-serif" font-size="8.0" font-weight="400" fill="#d1d4dc" stroke="#d1d4dc" stroke-width="0.18" textLength="26.40" lengthAdjust="spacingAndGlyphs">Binance</text>
<text x="127.9" y="28.4" font-family="'Liberation Sans',sans-serif" font-size="8.0" font-weight="400" fill="#d1d4dc" stroke="#d1d4dc" stroke-width="0.18" textLength="4.50" lengthAdjust="spacingAndGlyphs">O</text>
<text x="133.4" y="28.4" font-family="'Liberation Sans',sans-serif" font-size="8.0" font-weight="400" fill="#089981" stroke="#089981" stroke-width="0.18" textLength="35.70" lengthAdjust="spacingAndGlyphs">110,532.09</text>
<text x="174.3" y="28.4" font-family="'Liberation Sans',sans-serif" font-size="8.0" font-weight="400" fill="#d1d4dc" stroke="#d1d4dc" stroke-width="0.18" textLength="4.30" lengthAdjust="spacingAndGlyphs">H</text>
<text x="179.7" y="28.4" font-family="'Liberation Sans',sans-serif" font-size="8.0" font-weight="400" fill="#089981" stroke="#089981" stroke-width="0.18" textLength="36.10" lengthAdjust="spacingAndGlyphs">114,000.00</text>
<text x="220.9" y="28.4" font-family="'Liberation Sans',sans-serif" font-size="8.0" font-weight="400" fill="#d1d4dc" stroke="#d1d4dc" stroke-width="0.18" textLength="3.20" lengthAdjust="spacingAndGlyphs">L</text>
<text x="225.2" y="28.4" font-family="'Liberation Sans',sans-serif" font-size="8.0" font-weight="400" fill="#089981" stroke="#089981" stroke-width="0.18" textLength="36.10" lengthAdjust="spacingAndGlyphs">107,473.72</text>
<text x="266" y="28.4" font-family="'Liberation Sans',sans-serif" font-size="8.0" font-weight="400" fill="#d1d4dc" stroke="#d1d4dc" stroke-width="0.18" textLength="4.50" lengthAdjust="spacingAndGlyphs">C</text>
<text x="271.4" y="28.4" font-family="'Liberation Sans',sans-serif" font-size="8.0" font-weight="400" fill="#089981" stroke="#089981" stroke-width="0.18" textLength="35.70" lengthAdjust="spacingAndGlyphs">111,801.86</text>
<text x="312.2" y="28.4" font-family="'Liberation Sans',sans-serif" font-size="8.0" font-weight="400" fill="#089981" stroke="#089981" stroke-width="0.18" textLength="32.30" lengthAdjust="spacingAndGlyphs">+1,269.77</text>
<text x="347.9" y="28.4" font-family="'Liberation Sans',sans-serif" font-size="8.0" font-weight="400" fill="#089981" stroke="#089981" stroke-width="0.18" textLength="27.90" lengthAdjust="spacingAndGlyphs">(+1.15%)</text>
<text x="11.1" y="38.5" font-family="'Liberation Sans',sans-serif" font-size="8.0" font-weight="400" fill="#d1d4dc" stroke="#d1d4dc" stroke-width="0.18" textLength="10.40" lengthAdjust="spacingAndGlyphs">Vol</text>
<text x="23.8" y="38.5" font-family="'Liberation Sans',sans-serif" font-size="8.0" font-weight="400" fill="#d1d4dc" stroke="#d1d4dc" stroke-width="0.18" textLength="1.60" lengthAdjust="spacingAndGlyphs">·</text>
<text x="28.9" y="38.5" font-family="'Liberation Sans',sans-serif" font-size="8.0" font-weight="400" fill="#d1d4dc" stroke="#d1d4dc" stroke-width="0.18" textLength="12.70" lengthAdjust="spacingAndGlyphs">BTC</text>
<text x="46.5" y="38.5" font-family="'Liberation Sans',sans-serif" font-size="8.0" font-weight="400" fill="#26a69a" stroke="#26a69a" stroke-width="0.18" textLength="18.00" lengthAdjust="spacingAndGlyphs">30.42</text>
<text x="66" y="38.5" font-family="'Liberation Sans',sans-serif" font-size="8.0" font-weight="400" fill="#26a69a" stroke="#26a69a" stroke-width="0.18" textLength="4.30" lengthAdjust="spacingAndGlyphs">K</text>
<g fill="#ebebeb"><path d="M7.2 498.2H15.2V507.8H11V501.9H7.2Z"/><circle cx="17.6" cy="500.1" r="1.9"/><path d="M21 498.2H26.2L23.1 507.8H17.9Z"/></g>
<text x="31" y="507.8" font-family="'Liberation Sans',sans-serif" font-size="13.4" font-weight="700" fill="#ebebeb" textLength="75.5" lengthAdjust="spacingAndGlyphs">TradingView</text>
</svg>
</body></html>
